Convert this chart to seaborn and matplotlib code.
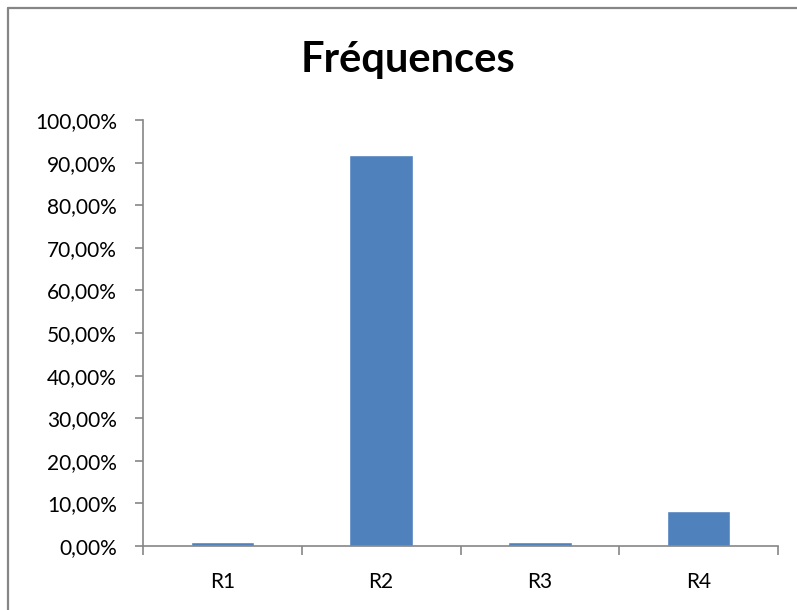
import matplotlib
matplotlib.use("Agg")
import matplotlib.pyplot as plt
from matplotlib.lines import Line2D
from matplotlib.ticker import FuncFormatter, FixedLocator
import seaborn as sns
import pandas as pd

# Relative frequency of each answer (in %)
categories = ["R1", "R2", "R3", "R4"]
frequencies = [1.0, 91.7, 1.0, 8.3]
title = "Fréquences"

sns.set_theme(style="white")
plt.rcParams["font.family"] = ["Lato", "DejaVu Sans"]

df = pd.DataFrame({"reponse": categories, "frequence": frequencies})

fig = plt.figure(figsize=(7.97, 6.10), dpi=100)
ax = fig.add_axes([143 / 797, 1 - 546 / 610, (778 - 143) / 797, (546 - 120) / 610])

sns.barplot(data=df, x="reponse", y="frequence", color="#4F81BD",
            saturation=1, width=0.4, ax=ax)

ax.set_xlim(-0.5, len(categories) - 0.5)
ax.set_ylim(0, 100)
ax.set_yticks(range(0, 101, 10))
ax.yaxis.set_major_formatter(FuncFormatter(lambda v, _: f"{v:.2f}%".replace(".", ",")))

# category separators as minor ticks on the x axis
ax.xaxis.set_minor_locator(FixedLocator([i - 0.5 for i in range(len(categories) + 1)]))
ax.tick_params(axis="x", which="major", length=0, pad=19, labelsize=15, labelcolor="black")
ax.tick_params(axis="x", which="minor", length=6.5, width=1.2, color="#868686", direction="out", bottom=True)
ax.tick_params(axis="y", which="major", length=5.8, width=1.2, color="#868686", direction="out",
               left=True, pad=13, labelsize=15, labelcolor="black")

ax.set_xlabel("")
ax.set_ylabel("")
for side in ("top", "right"):
    ax.spines[side].set_visible(False)
for side in ("left", "bottom"):
    ax.spines[side].set_color("#868686")
    ax.spines[side].set_linewidth(1.2)

fig.text(408 / 797, 1 - 72 / 610, title, ha="center", va="baseline",
         fontsize=30, fontweight="bold", color="black")

# chart area frame (left and top edges)
fx = 8 / 797
fy = 1 - 7.5 / 610
fig.add_artist(Line2D([fx, fx], [0, fy], transform=fig.transFigure, color="#868686", lw=1.6))
fig.add_artist(Line2D([fx, 1], [fy, fy], transform=fig.transFigure, color="#868686", lw=1.6))

fig.savefig("out.png", dpi=100)
